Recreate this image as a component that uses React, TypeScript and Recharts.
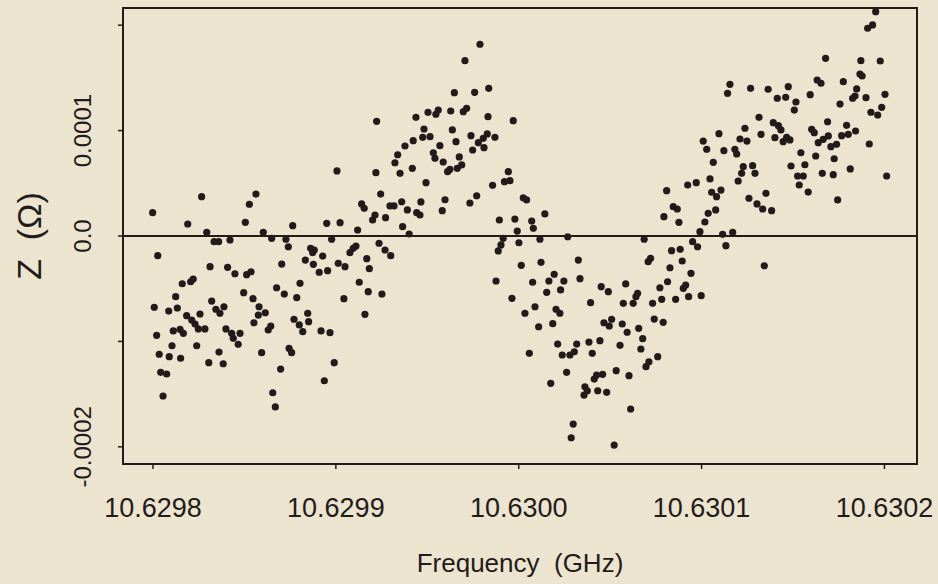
import React from 'react';
import {
  ScatterChart,
  Scatter,
  XAxis,
  YAxis,
  ReferenceLine,
  ReferenceArea,
  Label,
} from 'recharts';

// Measured impedance Z versus frequency near the 10.63 GHz resonance.
// Frequencies are stored as offsets (kHz) from 10.6298 GHz, impedance in micro-ohms.
const BASE_FREQ_GHZ = 10.6298;

const freqOffsetKHz = [
  -0.2, 0.7, 2.0, 2.6, 3.4, 4.2, 5.5, 7.5, 8.6, 8.9,
  10.4, 11.1, 12.4, 13.3, 14.8, 15.1, 16.0, 16.6, 18.4, 19.0,
  20.6, 21.2, 22.0, 23.0, 23.9, 24.8, 25.7, 26.6, 28.4, 29.4,
  30.5, 31.2, 32.1, 33.4, 34.4, 35.9, 36.1, 36.6, 38.4, 38.8,
  39.9, 40.8, 42.1, 43.0, 43.9, 44.8, 46.6, 47.6, 49.6, 50.5,
  51.2, 52.7, 53.6, 54.7, 55.2, 56.3, 57.6, 58.0, 59.4, 60.3,
  61.4, 63.0, 64.4, 64.9, 65.5, 66.9, 67.6, 69.8, 70.4, 71.8,
  72.7, 74.0, 74.4, 75.8, 76.4, 77.1, 78.6, 80.0, 80.4, 81.9,
  83.3, 84.6, 85.1, 86.2, 87.3, 87.7, 88.2, 90.9, 91.9, 92.8,
  93.7, 95.0, 95.5, 96.8, 97.7, 99.1, 100.6, 101.3, 102.3, 104.4,
  105.0, 107.7, 109.5, 111.0, 111.9, 112.8, 114.1, 115.5, 115.9, 116.9,
  117.7, 118.3, 120.1, 121.4, 121.9, 122.3, 123.6, 124.5, 125.2, 126.9,
  127.2, 129.6, 130.0, 131.8, 132.3, 133.8, 135.1, 136.0, 136.5,
  137.8, 139.1, 140.1, 141.8, 142.3, 143.8, 144.2, 146.0, 146.5, 147.5,
  148.2, 149.3, 150.4, 151.5, 153.3, 154.2, 154.7, 156.0, 156.9, 158.2,
  158.7, 159.7, 161.1, 162.4, 162.8, 163.7, 164.8, 165.7, 166.4, 167.5,
  168.8, 169.7, 170.6, 171.5, 173.3, 173.9, 174.8, 175.9, 177.0, 177.9,
  178.8, 180.6, 181.0, 182.8, 183.2, 183.6, 185.7, 187.0, 187.6, 188.8,
  189.4, 190.3, 191.5, 192.2, 194.3, 195.2, 196.3, 197.0, 197.9, 199.2,
  200.1, 201.4, 202.5, 203.4, 204.3, 205.8, 207.1, 207.6, 208.0, 208.9,
  210.9, 211.6, 212.2, 214.3, 215.3, 216.5, 217.5, 218.6, 219.4,
  220.4, 221.3, 222.5, 222.9, 223.8, 224.7, 226.2, 226.8, 228.0, 228.7,
  229.8, 230.4, 231.7, 232.6, 233.5, 235.7, 236.2, 237.5, 238.4, 239.3,
  240.2, 241.3, 242.6, 243.2, 244.4, 245.1, 245.9, 246.6, 248.1, 249.0,
  249.5, 250.8, 252.2, 253.3, 255.4, 256.6, 257.2, 258.5, 259.3, 260.3,
  261.2, 262.6, 264.1, 265.0, 265.6, 266.8, 267.8, 268.6, 269.6, 270.8,
  271.2, 272.1, 273.2, 274.1, 276.0, 277.2, 278.2, 279.0, 279.4, 280.9,
  281.4, 282.7, 283.6, 284.5, 285.8, 286.7, 287.6, 288.3, 289.4, 290.0,
  291.3, 292.4, 292.9, 294.2, 295.1, 297.1, 297.8, 299.1, 299.8, 300.9,
  301.8, 302.8, 303.6, 304.6, 305.5, 306.4, 307.7, 308.2, 309.5, 310.6,
  311.5, 312.2, 313.3, 314.2, 315.5, 317.0, 318.2, 319.2, 320.0, 321.0,
  321.9, 322.8, 323.7, 324.8, 325.9, 326.8, 327.9, 329.2, 330.3, 331.4,
  332.5, 333.4, 334.3, 335.2, 336.4, 338.3, 339.2, 340.1, 341.4, 342.0,
  343.4, 344.6, 346.0, 346.5, 347.4, 348.3, 348.9, 350.7, 351.6, 352.5,
  353.4, 354.3, 355.6, 356.5, 358.3, 359.4, 360.2, 361.6, 362.4, 363.2,
  363.8, 365.3, 366.0, 366.5, 367.8, 368.9, 369.3, 370.7, 372.0, 372.5,
  373.8, 374.4, 375.7, 376.6, 377.5, 379.3, 380.2, 381.3, 382.6, 383.9,
  384.2, 384.8, 386.6, 387.1, 387.8, 389.9, 390.8, 391.7, 392.6, 393.5,
  395.2, 396.3, 397.7, 398.5, 400.3, 401.2,
];

const impedanceMicroOhm = [
  22.1, -67.6, -94.2, -18.7, -112.2, -129.3, -151.8, -130.9, -71.2, -114.5,
  -104.1, -90.1, -57.6, -68.3, -88.5, -116.0, -45.3, -92.3, -75.6, 11.4,
  -43.4, -79.7, -40.8, -83.5, -104.1, -88.2, -74.0, 37.3, -88.2, 3.5,
  -120.2, -29.1, -61.7, -5.4, -69.5, -5.4, -110.1, -73.3, -121.2, -67.1,
  -88.2, -29.7, -3.8, -92.3, -97.1, -35.8, -102.8, -92.3, -53.8, 13.0,
  -36.7, 30.1, -33.9, -59.5, -82.3, 39.8, -75.0, -67.1, -110.7, 3.5,
  -72.8, -89.2, -85.4, -2.2, -148.7, -162.2, -49.1, -126.2, -26.6, -55.0,
  -3.1, -10.2, -106.6, -110.7, 9.8, -79.0, -58.5, -84.4, -44.9, -90.8,
  -22.8, -73.3, -81.3, -11.7, -15.8, -26.9, -13.3, -34.4, -90.1, -19.0,
  -137.3, 12.0, -32.9, -91.7, -3.1, -120.2, 61.7, -25.9, 12.6, -59.5,
  -29.1, -15.8, -11.7, -9.5, 5.7, -43.9, 30.4, 26.3, -74.3, -21.5,
  -52.8, -31.0, 15.2, 19.9, 60.1, 108.8, -6.9, 39.8, -55.0, -13.3,
  17.4, 28.5, -18.7, 28.5, 69.5, 77.1, 59.5, 32.5, 8.8,
  85.4, 24.7, 1.9, 64.2, 90.4, 112.6, 22.1, 19.9, 32.3, 93.6,
  101.5, 50.6, 117.4, 94.2, 79.0, 73.7, 115.5, 119.5, 85.7, 24.0,
  70.2, 34.4, 61.0, 63.3, 118.6, 100.6, 136.0, 89.5, 64.2, 75.0,
  67.4, 117.9, 166.3, 121.2, 31.3, 95.2, 81.6, 136.3, 38.2, 88.5,
  181.9, 92.7, 83.8, 96.8, 113.2, 140.1, 48.1, 93.6, -42.7, -14.2,
  15.2, -8.5, -2.2, 51.5, 61.0, 52.5, -59.1, 109.4, 16.1, 4.7,
  -6.4, -27.8, 36.3, -73.3, 34.2, -111.3, 14.2, -43.9, 7.3, -67.1,
  -86.1, -3.1, -25.0, 20.9, -53.4, -42.7, -139.8, -83.2, -36.3,
  -69.5, -102.5, -73.3, -51.2, -112.9, -42.7, -129.3, -0.7, -112.9, -191.4,
  -178.4, -109.8, -102.5, -22.8, -40.5, -150.9, -143.0, -146.8, -100.6, -63.3,
  -111.3, -135.7, -131.9, -146.8, -99.3, -48.1, -131.2, -82.3, -148.3, -52.8,
  -85.4, -79.0, -198.3, -127.8, -103.7, -83.5, -63.9, -45.5, -91.4, -132.5,
  -164.1, -63.9, -57.6, -54.4, -87.6, -107.2, -97.4, -3.1, -124.0, -24.4,
  -119.3, -21.2, -63.9, -78.8, -114.5, -49.1, -60.1, -81.9, 18.3, 43.0,
  -43.4, -30.1, -13.9, 27.8, -60.1, 25.6, 13.0, -12.6, -23.7, -49.6,
  -46.5, 48.4, -57.6, -35.4, -5.4, 50.6, -10.2, 4.1, -56.6, 90.1,
  13.3, 82.3, 21.5, 54.1, 41.5, 69.9, 24.7, 37.3, 97.1, 43.6,
  1.6, 80.9, -9.2, 135.4, 143.9, 3.5, 82.3, 77.8, 52.2, 92.0,
  59.5, 65.8, 102.2, 90.1, 35.8, 140.1, 66.7, 59.5, 30.4, 112.6,
  96.5, 25.6, -28.2, 40.5, 139.2, 24.0, 107.5, 93.3, 130.7, 104.7,
  100.6, 89.5, 131.6, 93.6, 141.7, 91.1, 66.4, 119.5, 127.1, 56.9,
  48.4, 79.0, 56.9, 67.6, 41.7, 134.1, 101.2, 98.0, 75.9, 148.0,
  88.5, 144.9, 59.5, 91.7, 168.6, 108.4, 94.9, 84.7, 58.2, 73.3,
  87.0, 34.2, 125.2, 95.2, 146.4, 105.0, 96.5, 63.6, 130.7, 132.8,
  99.6, 139.5, 153.7, 166.3, 151.8, 131.2, 197.1, 87.3, 117.4, 200.2,
  212.8, 114.8, 166.0, 122.1, 134.4, 56.9,
];

const xTicks = [10.6298, 10.6299, 10.63, 10.6301, 10.6302];
const xTickLabels = ['10.6298', '10.6299', '10.6300', '10.6301', '10.6302'];
const yTicks = [-0.0002, -0.0001, 0, 0.0001, 0.0002];
const yTickLabels = ['-0.0002', '', '0.0', '0.0001', ''];

const points = freqOffsetKHz.map((k, i) => ({
  freq: BASE_FREQ_GHZ + k * 1e-6,
  z: impedanceMicroOhm[i] * 1e-6,
}));

const X_DOMAIN: [number, number] = [BASE_FREQ_GHZ - 16.4e-6, BASE_FREQ_GHZ + 417.8e-6];
const Y_DOMAIN: [number, number] = [-216.3e-6, 216.3e-6];

const PAPER = '#ece4cf';
const INK = '#231b1b';
const FONT = '"Liberation Sans", Arial, Helvetica, sans-serif';

const findIndex = (list: number[], v: number) =>
  list.findIndex((t) => Math.abs(t - v) < 1e-9);

const XTick = (props: any) => {
  const { x, y, payload } = props;
  const label = xTickLabels[findIndex(xTicks, payload.value)];
  return (
    <text x={x} y={y + 46} textAnchor="middle" fontSize={27} fill={INK} fontFamily={FONT}>
      {label}
    </text>
  );
};

const YTick = (props: any) => {
  const { x, y, payload } = props;
  const label = yTickLabels[findIndex(yTicks, payload.value)];
  if (!label) return <g />;
  const tx = x - 25;
  return (
    <text
      x={tx}
      y={y}
      transform={`rotate(-90, ${tx}, ${y})`}
      textAnchor="middle"
      fontSize={24}
      fill={INK}
      fontFamily={FONT}
    >
      {label}
    </text>
  );
};

const XTitle = (props: any) => {
  const vb = props.viewBox || {};
  return (
    <text
      x={vb.x + vb.width / 2}
      y={vb.y + 107.7}
      textAnchor="middle"
      fontSize={26}
      fill={INK}
      fontFamily={FONT}
      style={{ whiteSpace: 'pre' }}
    >
      {'Frequency  (GHz)'}
    </text>
  );
};

const YTitle = (props: any) => {
  const vb = props.viewBox || {};
  const tx = vb.x + 41;
  const ty = vb.y + vb.height / 2;
  return (
    <text
      x={tx}
      y={ty}
      transform={`rotate(-90, ${tx}, ${ty})`}
      textAnchor="middle"
      fontSize={34}
      fill={INK}
      fontFamily={FONT}
      style={{ whiteSpace: 'pre' }}
    >
      {'Z  (\u03A9)'}
    </text>
  );
};

const Dot = (props: any) => <circle cx={props.cx} cy={props.cy} r={3.6} fill={INK} />;

export default function App() {
  return (
    <div
      style={{
        position: 'absolute',
        left: 0,
        top: 0,
        width: 938,
        height: 584,
        background: PAPER,
      }}
    >
      <ScatterChart
        width={938}
        height={584}
        margin={{ top: 8, right: 21, bottom: 0, left: 0 }}
      >
        <XAxis
          type="number"
          dataKey="freq"
          domain={X_DOMAIN}
          allowDataOverflow
          ticks={xTicks}
          tick={<XTick />}
          tickSize={5}
          tickLine={{ stroke: INK, strokeWidth: 1.5 }}
          axisLine={{ stroke: INK, strokeWidth: 2 }}
          height={120}
          interval={0}
        >
          <Label content={<XTitle />} />
        </XAxis>
        <YAxis
          type="number"
          dataKey="z"
          domain={Y_DOMAIN}
          allowDataOverflow
          ticks={yTicks}
          tick={<YTick />}
          tickSize={5}
          tickLine={{ stroke: INK, strokeWidth: 1.5 }}
          axisLine={{ stroke: INK, strokeWidth: 2 }}
          width={123}
          interval={0}
        >
          <Label content={<YTitle />} />
        </YAxis>
        <ReferenceArea
          x1={X_DOMAIN[0]}
          x2={X_DOMAIN[1]}
          y1={Y_DOMAIN[0]}
          y2={Y_DOMAIN[1]}
          fill="none"
          stroke={INK}
          strokeWidth={2}
          ifOverflow="visible"
        />
        <ReferenceLine y={0} stroke={INK} strokeWidth={2} />
        <Scatter data={points} shape={<Dot />} isAnimationActive={false} />
      </ScatterChart>
    </div>
  );
}
